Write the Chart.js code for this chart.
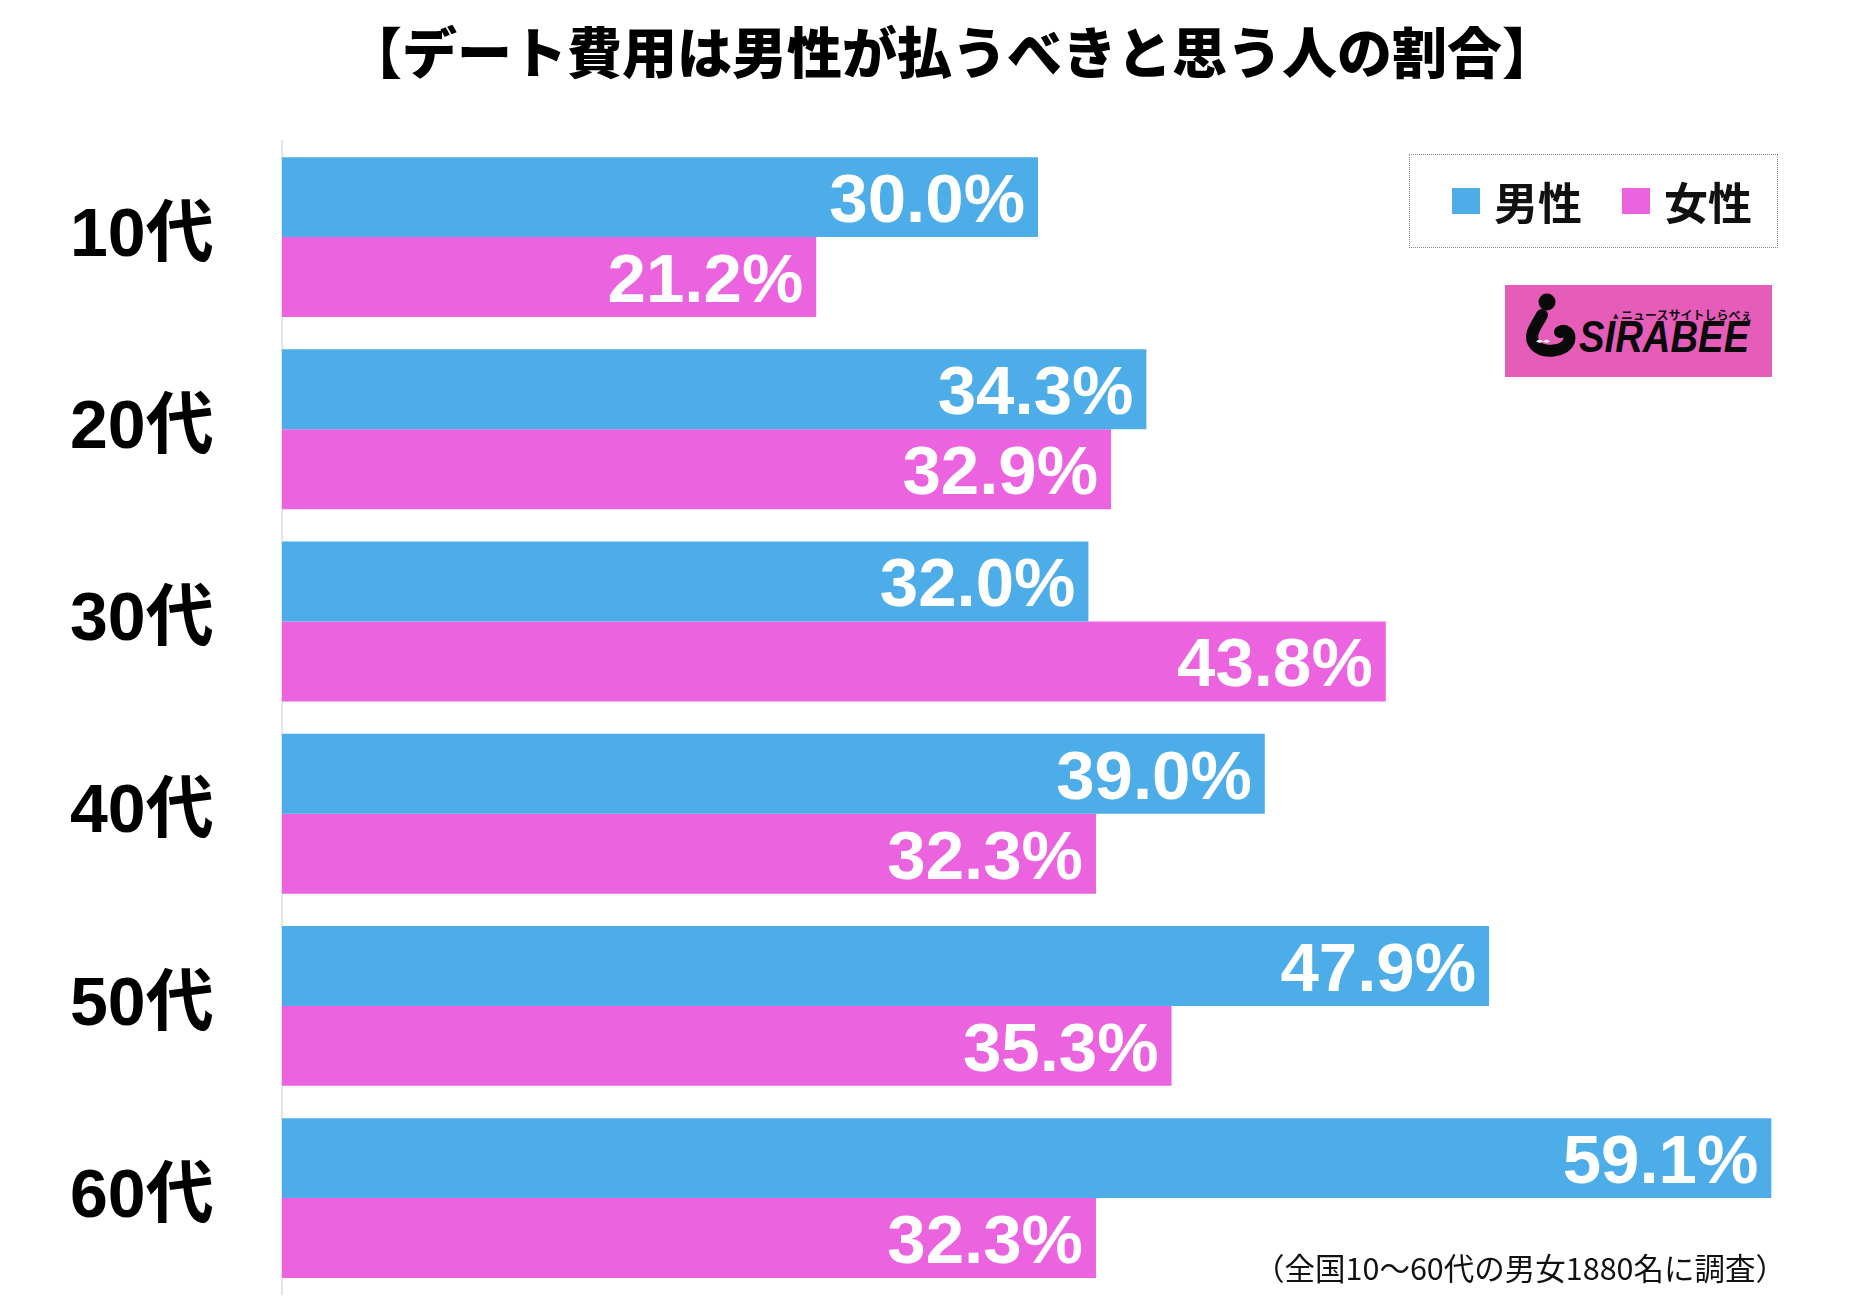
<!DOCTYPE html>
<html lang="ja">
<head>
<meta charset="utf-8">
<title>デート費用は男性が払うべきと思う人の割合</title>
<script src="https://cdn.jsdelivr.net/npm/chart.js@4"></script>
<style>
    html, body { margin: 0; padding: 0; background: #fff; overflow: hidden; }
    #wrap { position: relative; width: 1862px; height: 1301px; }
    #chartBox { position: absolute; left: 0; top: 0; width: 1862px; height: 1301px; }
    #title {
        position: absolute; left: 347px; top: 22px;
        font: 900 55px/55px "Noto Sans CJK JP", sans-serif; color: #000; white-space: nowrap;
    }
    #legend {
        position: absolute; left: 1409px; top: 154px; width: 367px; height: 92px;
        border: 1.5px dotted #8a8a8a; box-sizing: content-box;
    }
    .lg-item { position: absolute; top: 0; height: 92px; display: flex; align-items: center; }
    .lg-swatch { width: 28px; height: 26px; margin-right: 14px; }
    .lg-text { font: 700 44px/44px "Noto Sans CJK JP", sans-serif; color: #111; }
    #logo {
        position: absolute; left: 1505px; top: 285px; width: 267px; height: 92px;
        background: #e65cb9; overflow: hidden;
    }
    #logo .tri {
        position: absolute; left: 108px; top: 28px;
        font: 7px/7px "DejaVu Sans", sans-serif; color: #111;
    }
    #logo .sub {
        position: absolute; left: 116px; top: 24px;
        font: 700 12px/12px "Noto Sans CJK JP", sans-serif; color: #111; white-space: nowrap;
    }
    #logo .name {
        position: absolute; left: 74px; top: 30px;
        font: italic 900 44px/44px "Liberation Sans", Arial, sans-serif; color: #0a0a0a;
        transform: scaleX(0.87); transform-origin: left top; white-space: nowrap;
    }
    #note {
        position: absolute; right: 76px; top: 1252px;
        font: 400 30.5px/30px "Noto Sans CJK JP", sans-serif; color: #111; white-space: nowrap;
    }
</style>
</head>
<body>
<div id="wrap">
    <div id="chartBox"><canvas id="chart"></canvas></div>
    <div id="title">【デート費用は男性が払うべきと思う人の割合】</div>
    <div id="legend"></div>
    <div id="logo">
        <svg width="80" height="92" style="position:absolute;left:0;top:0">
            <circle cx="42" cy="17" r="8.5" fill="#0a0a0a"/>
            <path d="M 37 30 C 32 40, 22 50, 30 60 C 38 69, 60 67, 64 56 C 66 48, 60 44, 55 47"
                  stroke="#0a0a0a" stroke-width="12" fill="none" stroke-linecap="round"/>
            <text x="31" y="58" font-size="7" fill="#fff" font-family="DejaVu Sans">◂▸◂▸</text>
        </svg>
        <div class="tri">▲</div>
        <div class="sub">ニュースサイトしらべぇ</div>
        <div class="name">SIRABEE</div>
    </div>
    <div id="note">（全国10〜60代の男女1880名に調査）</div>
</div>
<script>
// Data
const ageGroups = ['10代', '20代', '30代', '40代', '50代', '60代'];
const seriesNames = ['男性', '女性'];
const maleValues = [30.0, 34.3, 32.0, 39.0, 47.9, 59.1];
const femaleValues = [21.2, 32.9, 43.8, 32.3, 35.3, 32.3];
const seriesColors = ['#4dade8', '#ec63df'];

const numFont = '"Liberation Sans", Arial, "Noto Sans CJK JP", sans-serif';

// Legend (HTML, top right)
const legendEl = document.getElementById('legend');
const legendLefts = [42, 212];
seriesNames.forEach((name, i) => {
    const item = document.createElement('div');
    item.className = 'lg-item';
    item.style.left = legendLefts[i] + 'px';
    item.innerHTML = `<div class="lg-swatch" style="background:${seriesColors[i]}"></div><div class="lg-text">${name}</div>`;
    legendEl.appendChild(item);
});

// White value labels inside the bar ends
const valueLabels = {
    id: 'valueLabels',
    afterDatasetsDraw(chart) {
        const ctx = chart.ctx;
        const size = 69;
        ctx.save();
        ctx.fillStyle = '#fff';
        ctx.font = `700 ${size}px ${numFont}`;
        ctx.textAlign = 'right';
        ctx.textBaseline = 'alphabetic';
        chart.data.datasets.forEach((ds, di) => {
            chart.getDatasetMeta(di).data.forEach((bar, i) => {
                const text = ds.data[i].toFixed(1) + '%';
                ctx.fillText(text, bar.x - 13, bar.y + size * 0.36);
            });
        });
        ctx.restore();
    }
};

new Chart(document.getElementById('chart'), {
    type: 'bar',
    data: {
        labels: ageGroups,
        datasets: [
            { label: seriesNames[0], data: maleValues, backgroundColor: seriesColors[0] },
            { label: seriesNames[1], data: femaleValues, backgroundColor: seriesColors[1] }
        ]
    },
    options: {
        indexAxis: 'y',
        responsive: true,
        maintainAspectRatio: false,
        animation: false,
        categoryPercentage: 0.832,
        barPercentage: 1.0,
        layout: { padding: { top: 141, bottom: 6, left: 70, right: 68 } },
        plugins: {
            legend: { display: false },
            title: { display: false },
            tooltip: { enabled: false }
        },
        scales: {
            x: {
                display: false,
                min: 0,
                max: 60
            },
            y: {
                grid: { display: false, drawTicks: false },
                border: { display: true, color: '#e4e4e4', width: 2 },
                ticks: {
                    color: '#000',
                    padding: 0,
                    crossAlign: 'far',
                    font: { family: numFont, size: 68, weight: '700', lineHeight: 0.2 }
                },
                afterFit(scale) { scale.width = 212; }
            }
        }
    },
    plugins: [valueLabels]
});
</script>
</body>
</html>
